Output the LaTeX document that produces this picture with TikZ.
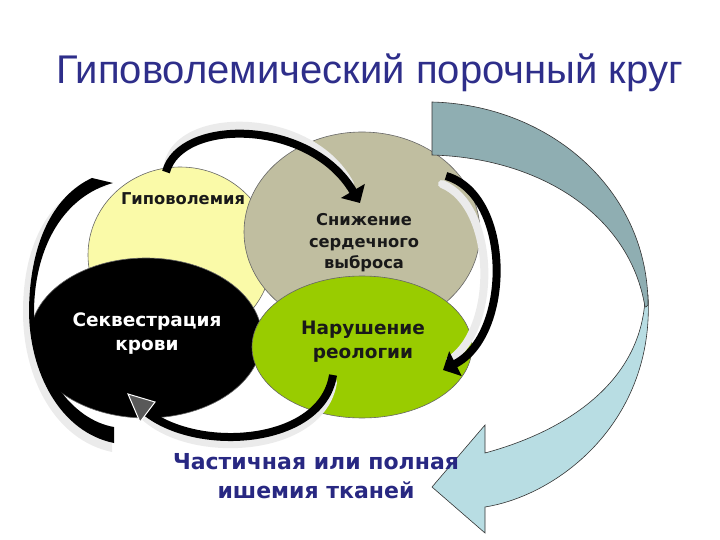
\documentclass[tikz,border=0pt]{standalone}
\usepackage{fontspec}
\setmainfont{DejaVu Sans}
\newfontfamily\titlefont{Liberation Sans}
\usetikzlibrary{shapes.geometric,arrows.meta}
\definecolor{ttl}{RGB}{46,46,138}
\definecolor{capblue}{RGB}{40,40,130}
\definecolor{pale}{RGB}{250,250,168}
\definecolor{khaki}{RGB}{192,190,160}
\definecolor{lime}{RGB}{153,204,0}
\definecolor{tealdark}{RGB}{143,174,178}
\definecolor{teallight}{RGB}{184,221,227}
\begin{document}
\begin{tikzpicture}[x=1pt,y=-1pt,
  blob/.style={ellipse,inner sep=0pt,draw=black!60,line width=0.6pt},
  lbl/.style={align=center,text=black!90,font=\bfseries\fontsize{16.3}{21.5}\selectfont},
  biglbl/.style={align=center,font=\bfseries\fontsize{18.5}{24}\selectfont},
  cyc/.style={line width=8pt,black,-{Triangle[width=27pt,length=14pt]}},
  shade/.style={line width=8pt,black!8,line cap=round},
  ribbon/.style={draw=black!80,line width=0.6pt}]
\useasboundingbox (0,0) rectangle (720,540);
% title
\node[font=\titlefont\fontsize{40}{46}\selectfont,text=ttl,anchor=base] (title) at (369.5,84) {Гиповолемический порочный круг};
% circles
\node[blob,fill=pale,minimum width=184pt,minimum height=176pt] (hypo) at (180,255) {};
\node[blob,fill=khaki,minimum width=236pt,minimum height=200pt] (cardiac) at (362,232) {};
\node[blob,fill=black,minimum width=232pt,minimum height=160pt] (seq) at (146,338) {};
\node[blob,fill=lime,minimum width=220pt,minimum height=142pt] (rheo) at (362,347) {};
% big twisted arrow
\fill[teallight] (648,295) .. controls (655,420) and (560,495) .. (485,507) -- (485,533) -- (432,487) -- (485,425) -- (485,453) .. controls (570,430) and (640,380) .. (645,300) -- cycle;
\draw[ribbon] (648,295) .. controls (655,420) and (560,495) .. (485,507) -- (485,533) -- (432,487) -- (485,425) -- (485,453) .. controls (570,430) and (640,380) .. (645,300);
\filldraw[ribbon,fill=tealdark] (432,102) .. controls (550,105) and (648,190) .. (648,305) .. controls (646,307) .. (645,307) .. controls (630,215) and (540,158) .. (432,155) -- cycle;
% shadows of cycle arrows
\draw[shade] (168,164) .. controls (180,110) and (310,110) .. (350,184);
\draw[shade] (442,184) .. controls (496,206) and (498,328) .. (450,360);
\draw[shade] (333,382) .. controls (322,455) and (185,462) .. (140,412);
% cycle arrows
\coordinate (a1s) at (166,172);
\coordinate (a1e) at (360,203);
\coordinate (a2s) at (446,176);
\coordinate (a2e) at (443,370);
\coordinate (a3s) at (333,375);
\coordinate (a3e) at (128,394);
\draw[cyc] (a1s) .. controls (180,118) and (310,118) .. (a1e);
\draw[cyc] (a2s) .. controls (512,195) and (512,335) .. (a2e);
\draw[line width=8pt,black,shorten >=14pt] (a3s) .. controls (322,448) and (185,455) .. (a3e);
\filldraw[fill=black!65,draw=white,line width=1pt,line join=miter] (a3e) -- ++(27,8) -- ++(-15,20) -- cycle;
% left crescent
\fill[black!8] (86,184) .. controls (48,202) and (23,245) .. (23,312) .. controls (23,378) and (55,440) .. (112,452) -- (112,440) .. controls (60,430) and (30,370) .. (30,312) .. controls (30,245) and (60,195) .. (108,186) -- cycle;
\fill[black] (92,178) .. controls (55,195) and (30,240) .. (29,310) .. controls (29,372) and (60,432) .. (114,443) -- (114,427) .. controls (72,420) and (35,370) .. (34,310) .. controls (35,245) and (65,196) .. (113,183) -- cycle;
% labels
\node[lbl] (t1) at (183,199) {Гиповолемия};
\node[lbl] (t2) at (364,243) {Снижение\\сердечного\\выброса};
\node[biglbl,text=white] (t3) at (147,334) {Секвестрация\\крови};
\node[biglbl,text=black!90] (t4) at (363,342) {Нарушение\\реологии};
\node[align=center,text=capblue,font=\bfseries\fontsize{22}{29}\selectfont] (t5) at (316,476) {Частичная или полная\\ишемия тканей};
\end{tikzpicture}
\end{document}
